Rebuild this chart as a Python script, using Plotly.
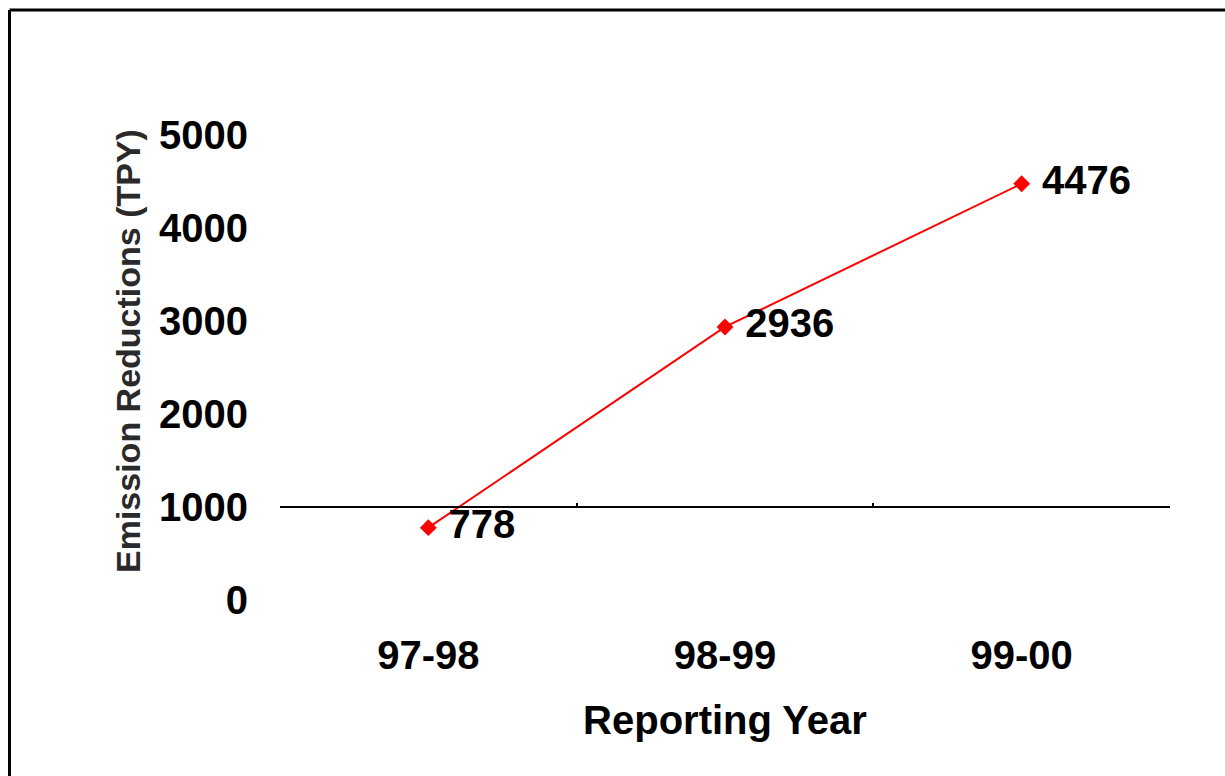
import plotly.graph_objects as go

categories = ["97-98", "98-99", "99-00"]
values = [778, 2936, 4476]
value_labels = ["778", "2936", "4476"]
y_ticks = [0, 1000, 2000, 3000, 4000, 5000]
axis_cross_value = 1000

FONT = "Liberation Sans, Arial, sans-serif"

W, H = 1225, 776
plot_l, plot_r, plot_t, plot_b = 280, 1170, 135, 600
plot_w, plot_h = plot_r - plot_l, plot_b - plot_t


def px_x(px):
    return (px - plot_l) / plot_w


def px_y(py):
    return (plot_b - py) / plot_h


fig = go.Figure()
fig.add_trace(go.Scatter(
    x=categories, y=values, mode="lines+markers+text",
    line=dict(color="#ff0000", width=2),
    marker=dict(symbol="diamond", size=13, color="#ff0000"),
    text=value_labels, texttemplate=" %{text}", textposition="middle right",
    textfont=dict(family=FONT, size=40, color="black", weight="bold"),
    cliponaxis=False, showlegend=False, hoverinfo="skip",
))
# invisible trace for the crossing axis
fig.add_trace(go.Scatter(
    x=categories, y=[None]*len(categories), xaxis="x2",
    mode="markers", showlegend=False, hoverinfo="skip",
))

y_min, y_max = 0, 5000
fig.update_layout(
    width=W, height=H,
    paper_bgcolor="white", plot_bgcolor="white",
    margin=dict(l=plot_l, r=W - plot_r, t=plot_t, b=H - plot_b, autoexpand=False),
    font=dict(family=FONT, color="black"),
    xaxis=dict(
        type="category", range=[-0.5, 2.5],
        showline=False, showgrid=False, zeroline=False, ticks="",
        tickfont=dict(family=FONT, size=40, weight="bold", color="black"),
        ticklabelstandoff=28,
        title=dict(text="Reporting Year", standoff=29,
                   font=dict(family=FONT, size=40, weight="bold", color="black")),
    ),
    xaxis2=dict(
        type="category", range=[-0.5, 2.5], overlaying="x",
        anchor="free", position=(axis_cross_value - y_min) / (y_max - y_min),
        showline=True, linecolor="black", linewidth=2,
        ticks="inside", tickson="boundaries", ticklen=3, tickwidth=2, tickcolor="black",
        showticklabels=False, showgrid=False, zeroline=False,
    ),
    yaxis=dict(
        range=[y_min, y_max], tickvals=y_ticks,
        showline=False, showgrid=False, zeroline=False, ticks="",
        tickfont=dict(family=FONT, size=40, weight="bold", color="black"),
        ticklabelstandoff=31,
    ),
    annotations=[dict(
        text="Emission Reductions (TPY)", textangle=-90,
        xref="paper", yref="paper", x=px_x(128), y=px_y(351),
        xanchor="center", yanchor="middle", showarrow=False,
        font=dict(family=FONT, size=34, weight="bold", color="#2a2a2a"),
    )],
    shapes=[
        dict(type="line", xref="paper", yref="paper",
             x0=px_x(9.5), x1=px_x(W + 20), y0=px_y(10), y1=px_y(10),
             line=dict(color="black", width=3)),
        dict(type="line", xref="paper", yref="paper",
             x0=px_x(9.5), x1=px_x(9.5), y0=px_y(10), y1=px_y(H + 20),
             line=dict(color="black", width=3)),
    ],
)

fig.write_html(
    "out.html",
    config={"displayModeBar": False},
    post_script="document.body.style.margin='0';document.body.style.overflow='hidden';",
)
